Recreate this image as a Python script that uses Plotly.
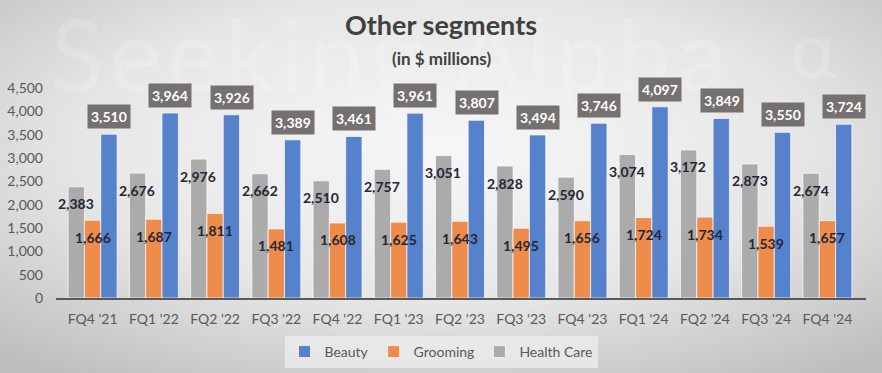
import plotly.graph_objects as go

categories = ["FQ4 '21", "FQ1 '22", "FQ2 '22", "FQ3 '22", "FQ4 '22", "FQ1 '23", "FQ2 '23",
              "FQ3 '23", "FQ4 '23", "FQ1 '24", "FQ2 '24", "FQ3 '24", "FQ4 '24"]
health_care = [2383, 2676, 2976, 2662, 2510, 2757, 3051, 2828, 2590, 3074, 3172, 2873, 2674]
grooming = [1666, 1687, 1811, 1481, 1608, 1625, 1643, 1495, 1656, 1724, 1734, 1539, 1657]
beauty = [3510, 3964, 3926, 3389, 3461, 3961, 3807, 3494, 3746, 4097, 3849, 3550, 3724]
y_ticks = list(range(0, 4501, 500))

FONT = "Lato"
C_BEAUTY = "#5681CB"
C_GROOM = "#EE8C4C"
C_HEALTH = "#ABABAB"

W, H = 882, 373
L, R, T, B = 56, 16, 88, 75
plot_w = W - L - R
plot_h = H - T - B
cat_w = plot_w / len(categories)
bargap = 0.2
bar_w = cat_w * (1 - bargap) / 3

fig = go.Figure()
for name, vals, col in [("Health Care", health_care, C_HEALTH),
                        ("Grooming", grooming, C_GROOM),
                        ("Beauty", beauty, C_BEAUTY)]:
    fig.add_trace(go.Bar(name=name, x=categories, y=vals, marker_color=col,
                         marker_line=dict(color="rgba(255,255,255,0.7)", width=1),
                         hoverinfo="x+y+name"))

# background: radial gradient with faint watermark
bg_svg = ("data:image/svg+xml;utf8,<svg xmlns='http://www.w3.org/2000/svg' width='882' height='373'>"
          "<defs><radialGradient id='g' cx='50%25' cy='40%25' r='75%25'>"
          "<stop offset='0%25' stop-color='%23f7f7f7'/><stop offset='55%25' stop-color='%23e6e6e6'/>"
          "<stop offset='100%25' stop-color='%23bdbdbd'/></radialGradient></defs>"
          "<rect width='882' height='373' fill='url(%23g)'/>"
          "<text x='50' y='92' font-family='Lato, sans-serif' font-size='100' letter-spacing='5' "
          "fill='white' fill-opacity='0.16'>Seeking Alpha</text>"
          "<text x='790' y='78' font-family='Lato, sans-serif' font-size='80' "
          "fill='white' fill-opacity='0.16'>α</text></svg>")

annotations = []
annotations.append(dict(text="<b>Other segments</b>", xref="paper", yref="paper",
                        x=(441 - L) / plot_w, y=(298 - 25) / plot_h, showarrow=False,
                        font=dict(family=FONT, size=27, color="#404040"), xanchor="center", yanchor="middle"))
annotations.append(dict(text="<b>(in $ millions)</b>", xref="paper", yref="paper",
                        x=(441 - L) / plot_w, y=(298 - 58) / plot_h, showarrow=False,
                        font=dict(family=FONT, size=17, color="#404040"), xanchor="center", yanchor="middle"))

for i, c in enumerate(categories):
    for vals, shift in [(health_care, -bar_w), (grooming, 0)]:
        annotations.append(dict(x=c, y=vals[i], xref="x", yref="y", text=f"<b>{vals[i]:,}</b>",
                                showarrow=False, xshift=shift, yshift=-17, yanchor="middle",
                                font=dict(family=FONT, size=14, color="#232833")))
    annotations.append(dict(x=c, y=beauty[i], xref="x", yref="y", text=f"<b>{beauty[i]:,}</b>",
                            showarrow=False, xshift=bar_w, yshift=5, yanchor="bottom",
                            bgcolor="#767171", borderpad=3,
                            font=dict(family=FONT, size=14, color="white")))

fig.update_layout(
    width=W, height=H,
    margin=dict(l=L, r=R, t=T, b=B, pad=0, autoexpand=False),
    barmode="group", bargap=bargap, bargroupgap=0,
    paper_bgcolor="#e4e4e4", plot_bgcolor="rgba(0,0,0,0)",
    font=dict(family=FONT, size=13, color="#595959"),
    images=[dict(source=bg_svg, xref="paper", yref="paper", x=-L / plot_w, y=1 + T / plot_h,
                 sizex=W / plot_w, sizey=H / plot_h, sizing="stretch", layer="below",
                 xanchor="left", yanchor="top")],
    annotations=annotations,
    showlegend=True,
    legend=dict(orientation="h", traceorder="reversed", xref="container", yref="container",
                x=0.5, xanchor="center", y=(H - 352) / H, yanchor="middle",
                bgcolor="rgba(240,240,240,0.7)", font=dict(family=FONT, size=14, color="#595959"),
                itemwidth=30),
    xaxis=dict(showgrid=False, showline=True, linecolor="#595959", linewidth=2,
               ticks="", tickfont=dict(family=FONT, size=14, color="#595959"),
               ticklabelstandoff=7, fixedrange=True, automargin=False),
    yaxis=dict(range=[0, 4500], tickvals=y_ticks, ticktext=[f"{v:,}" for v in y_ticks],
               showgrid=False, zeroline=False, showline=False,
               tickfont=dict(family=FONT, size=14, color="#595959"), ticklabelstandoff=12,
               fixedrange=True, automargin=False),
)

fig.write_html("out.html", config={"displayModeBar": False},
               post_script="document.body.style.margin='0';document.body.style.overflow='hidden';")
